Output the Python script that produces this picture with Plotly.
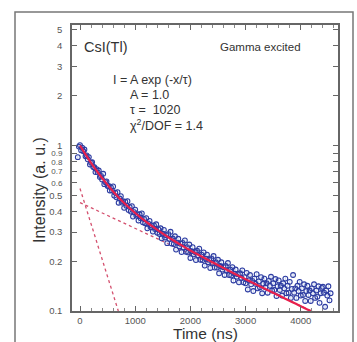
import plotly.graph_objects as go

# ---- data ----
time_ns = [
    -40, -20, 0, 20, 40, 60, 80, 100, 120, 140, 160, 180, 200, 220, 240, 260, 280, 300, 320, 340,
    360, 380, 400, 420, 440, 460, 480, 500, 520, 540, 560, 580, 600, 620, 640, 660, 680, 700, 720, 740,
    760, 780, 800, 820, 840, 860, 880, 900, 920, 940, 960, 980, 1000, 1020, 1040, 1060, 1080, 1100, 1120, 1140,
    1160, 1180, 1200, 1220, 1240, 1260, 1280, 1300, 1320, 1340, 1360, 1380, 1400, 1420, 1440, 1460, 1480, 1500, 1520, 1540,
    1560, 1580, 1600, 1620, 1640, 1660, 1680, 1700, 1720, 1740, 1760, 1780, 1800, 1820, 1840, 1860, 1880, 1900, 1920, 1940,
    1960, 1980, 2000, 2020, 2040, 2060, 2080, 2100, 2120, 2140, 2160, 2180, 2200, 2220, 2240, 2260, 2280, 2300, 2320, 2340,
    2360, 2380, 2400, 2420, 2440, 2460, 2480, 2500, 2520, 2540, 2560, 2580, 2600, 2620, 2640, 2660, 2680, 2700, 2720, 2740,
    2760, 2780, 2800, 2820, 2840, 2860, 2880, 2900, 2920, 2940, 2960, 2980, 3000, 3020, 3040, 3060, 3080, 3100, 3120, 3140,
    3160, 3180, 3200, 3220, 3240, 3260, 3280, 3300, 3320, 3340, 3360, 3380, 3400, 3420, 3440, 3460, 3480, 3500, 3520, 3540,
    3560, 3580, 3600, 3620, 3640, 3660, 3680, 3700, 3720, 3740, 3760, 3780, 3800, 3820, 3840, 3860, 3880, 3900, 3920, 3940,
    3960, 3980, 4000, 4020, 4040, 4060, 4080, 4100, 4120, 4140, 4160, 4180, 4200, 4220, 4240, 4260, 4280, 4300, 4320, 4340,
    4360, 4380, 4400, 4420, 4440, 4460, 4480, 4500, 4520, 4540,
]
intensity = [
    0.850, 0.985, 1.005, 0.936, 0.970, 0.923, 0.946, 0.861, 0.871, 0.825, 0.851, 0.768, 0.786, 0.792, 0.741, 0.740, 0.691, 0.719, 0.688, 0.706,
    0.645, 0.655, 0.623, 0.675, 0.584, 0.600, 0.607, 0.569, 0.570, 0.535, 0.558, 0.534, 0.566, 0.498, 0.518, 0.486, 0.522, 0.451, 0.478, 0.494,
    0.452, 0.460, 0.420, 0.457, 0.433, 0.461, 0.407, 0.425, 0.399, 0.430, 0.372, 0.396, 0.410, 0.377, 0.384, 0.352, 0.384, 0.364, 0.389, 0.344,
    0.360, 0.339, 0.364, 0.316, 0.337, 0.350, 0.322, 0.329, 0.302, 0.329, 0.313, 0.334, 0.297, 0.311, 0.292, 0.316, 0.275, 0.293, 0.309, 0.278,
    0.287, 0.257, 0.291, 0.273, 0.301, 0.256, 0.274, 0.254, 0.283, 0.235, 0.259, 0.273, 0.246, 0.255, 0.227, 0.258, 0.242, 0.267, 0.228, 0.243,
    0.226, 0.252, 0.209, 0.230, 0.243, 0.220, 0.227, 0.203, 0.231, 0.217, 0.238, 0.204, 0.219, 0.203, 0.226, 0.188, 0.207, 0.219, 0.197, 0.204,
    0.182, 0.208, 0.195, 0.215, 0.183, 0.197, 0.183, 0.204, 0.169, 0.187, 0.197, 0.178, 0.184, 0.165, 0.187, 0.176, 0.195, 0.165, 0.178, 0.164,
    0.184, 0.153, 0.168, 0.178, 0.161, 0.167, 0.149, 0.169, 0.159, 0.176, 0.149, 0.160, 0.147, 0.170, 0.135, 0.153, 0.165, 0.145, 0.152, 0.132,
    0.157, 0.146, 0.167, 0.137, 0.151, 0.139, 0.160, 0.128, 0.146, 0.157, 0.139, 0.147, 0.129, 0.152, 0.142, 0.161, 0.133, 0.147, 0.134, 0.156,
    0.123, 0.141, 0.153, 0.134, 0.142, 0.124, 0.147, 0.137, 0.157, 0.128, 0.142, 0.129, 0.150, 0.120, 0.136, 0.165, 0.129, 0.137, 0.120, 0.142,
    0.132, 0.150, 0.124, 0.137, 0.125, 0.145, 0.115, 0.132, 0.142, 0.125, 0.133, 0.115, 0.137, 0.128, 0.145, 0.120, 0.133, 0.122, 0.141, 0.112,
    0.128, 0.138, 0.140, 0.129, 0.106, 0.133, 0.124, 0.141, 0.116, 0.128,
]

fit_t = [0, 100, 200, 300, 400, 500, 600, 800, 1000, 1200, 1400, 1600, 1800, 2000, 2400, 2800, 3200, 3600, 4000, 4200]
fit_i = [1.0, 0.883, 0.786, 0.705, 0.636, 0.578, 0.528, 0.449, 0.391, 0.345, 0.309, 0.279, 0.254, 0.232, 0.197, 0.168, 0.144, 0.124, 0.107, 0.099]

fast_t = [0, 694]
fast_i = [0.55, 0.10]
slow_t = [0, 4200]
slow_i = [0.452, 0.10]

y_tickvals = [0.1, 0.2, 0.3, 0.4, 0.5, 0.6, 0.7, 0.8, 0.9, 1, 2, 3, 4, 5]
y_ticklabels = ["0.1", "0.2", "0.3", "0.4", "0.5", "0.6", "0.7", "0.8", "0.9", "1", "2", "3", "4", "5"]
x_tickvals = [0, 1000, 2000, 3000, 4000]

FONT = "Liberation Sans, Arial, sans-serif"
DOT = "#d4506e"

# small labels (0.6 .. 0.9) are squeezed in the original
y_ticktext = [
    (f'<span style="font-size:8px">{t}</span>' if v in (0.6, 0.7, 0.8, 0.9) else t)
    for v, t in zip(y_tickvals, y_ticklabels)
]

fig = go.Figure()
fig.add_trace(go.Scatter(x=fast_t, y=fast_i, mode="lines",
                         line=dict(color=DOT, width=1.3, dash="dot"), hoverinfo="skip"))
fig.add_trace(go.Scatter(x=slow_t, y=slow_i, mode="lines",
                         line=dict(color=DOT, width=1.3, dash="dot"), hoverinfo="skip"))
fig.add_trace(go.Scatter(x=time_ns, y=intensity, mode="markers",
                         marker=dict(symbol="circle-open", size=4.8, color="#2e3da2",
                                     line=dict(width=1.1, color="#2e3da2")),
                         error_y=dict(type="percent", value=4, color="rgba(130,160,225,0.45)",
                                      thickness=1, width=0)))
fig.add_trace(go.Scatter(x=fit_t, y=fit_i, mode="lines",
                         line=dict(color="#e8204c", width=2.2), line_shape="spline"))

fig.update_layout(
    width=357, height=342,
    margin=dict(l=72, r=19, t=25, b=31),
    paper_bgcolor="white", plot_bgcolor="white",
    showlegend=False,
    font=dict(family=FONT, color="#555"),
)
fig.update_xaxes(
    range=[-145, 4674], tickvals=x_tickvals, ticks="inside", ticklen=5, tickwidth=1,
    tickcolor="#666", showline=True, linecolor="#666", linewidth=1.5, mirror="ticks",
    showgrid=False, zeroline=False, tickfont=dict(size=9.5, color="#555"),
    minor=dict(dtick=200, tick0=0, ticks="inside", ticklen=3, tickcolor="#888", showgrid=False),
)
fig.update_yaxes(
    type="log", range=[-1, 0.728], tickvals=y_tickvals, ticktext=y_ticktext,
    ticks="inside", ticklen=5, tickwidth=1, tickcolor="#666",
    showline=True, linecolor="#666", linewidth=1.5, mirror="ticks",
    showgrid=False, zeroline=False, tickfont=dict(size=9.5, color="#555"),
    ticklabelstandoff=6,
)

def px(x):
    return (x - 72) / 266.0

def py(y):
    return (311 - y) / 286.0

ann = [
    dict(x=px(82), y=py(47), text="CsI(Tl)", size=14.5, color="#333"),
    dict(x=px(218), y=py(47), text="Gamma excited", size=11.5, color="#333"),
    dict(x=px(111), y=py(80), text="I = A exp (-x/τ)", size=12.5, color="#333"),
    dict(x=px(128), y=py(95), text="A = 1.0", size=12.5, color="#333"),
    dict(x=px(128), y=py(110), text="τ =  1020", size=12.5, color="#333"),
    dict(x=px(128), y=py(125), text="χ<sup>2</sup>/DOF = 1.4", size=12.5, color="#333"),
]
for a in ann:
    fig.add_annotation(x=a["x"], y=a["y"], xref="paper", yref="paper", text=a["text"],
                       showarrow=False, xanchor="left", yanchor="middle", align="left",
                       font=dict(family=FONT, size=a["size"], color=a["color"]))

fig.add_annotation(x=0.5, y=py(333), xref="paper", yref="paper", text="Time (ns)",
                   showarrow=False, xanchor="center", yanchor="middle",
                   font=dict(family=FONT, size=15.5, color="#333"))
fig.add_annotation(x=px(40), y=py(190), xref="paper", yref="paper", text="Intensity (a. u.)",
                   showarrow=False, xanchor="center", yanchor="middle", textangle=-90,
                   font=dict(family=FONT, size=16, color="#333"))

# outer frame
fig.add_shape(type="rect", xref="paper", yref="paper",
              x0=px(15), x1=px(353), y0=py(400), y1=py(12),
              line=dict(color="#777", width=1.5), fillcolor="rgba(0,0,0,0)", layer="below")

fig.write_html("out.html")
